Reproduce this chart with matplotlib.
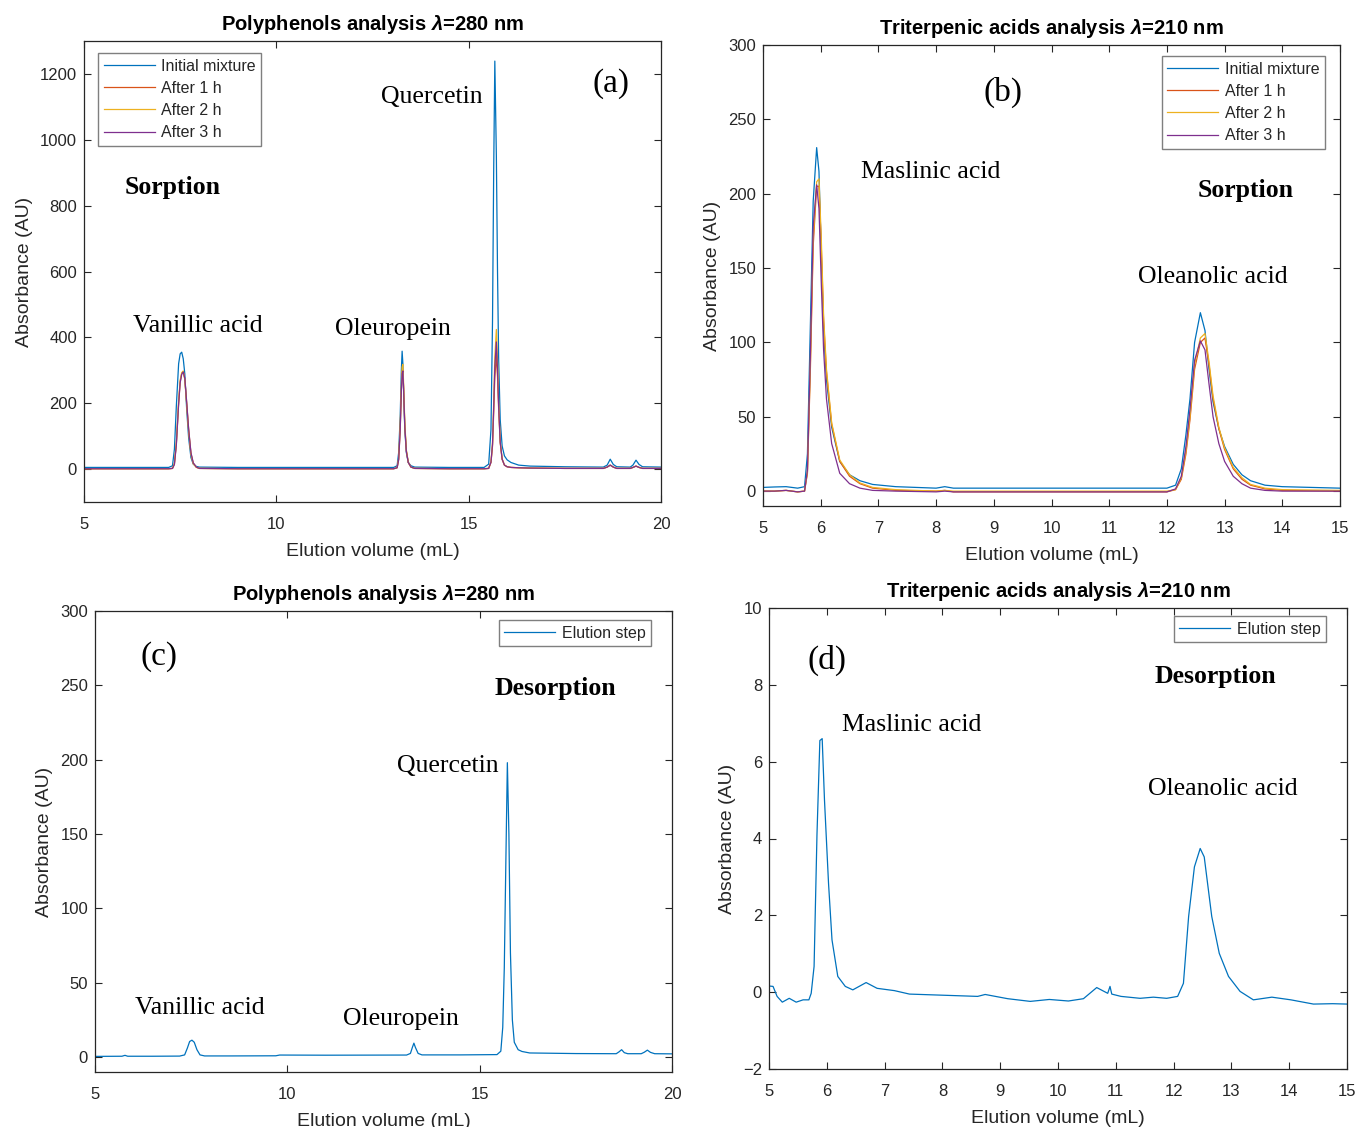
import matplotlib
matplotlib.use("Agg")
import matplotlib.pyplot as plt

# ---------------- data ----------------
series_labels = ["Initial mixture", "After 1 h", "After 2 h", "After 3 h"]
elution_label = ["Elution step"]

# Panel (a): polyphenols, sorption
x_a = [5.0, 6.0, 7.0,
       7.2, 7.3, 7.35, 7.40, 7.46, 7.50, 7.54, 7.58, 7.62, 7.67, 7.72, 7.78, 7.84, 7.92, 8.0,
       9.0, 10.0, 11.0, 12.0,
       13.05, 13.14, 13.18, 13.22, 13.25, 13.27, 13.29, 13.31, 13.34, 13.38, 13.43, 13.5, 13.6,
       14.5,
       15.4, 15.52, 15.58, 15.62, 15.65, 15.68, 15.72, 15.75, 15.78, 15.82, 15.87, 15.93, 16.0,
       16.1, 16.3, 16.6, 17.5, 18.5, 18.6, 18.68, 18.76, 18.85, 19.2, 19.27, 19.35, 19.43, 19.52, 20.0]
a_initial = [5, 5, 5,
             5, 10, 60, 190, 320, 350, 355, 335, 290, 180, 95, 35, 15, 8, 6,
             5, 5, 5, 5,
             5, 10, 50, 160, 300, 358, 320, 230, 120, 50, 20, 10, 6,
             5,
             5, 15, 120, 450, 900, 1239, 950, 600, 330, 150, 70, 40, 28,
             20, 12, 9, 7, 6, 12, 30, 14, 7, 6, 12, 27, 14, 7, 6]
a_1h = [1, 1, 1,
        1, 2, 15, 75, 200, 265, 290, 296, 275, 200, 120, 48, 18, 6, 2,
        1, 1, 1, 1,
        1, 4, 30, 120, 240, 295, 300, 240, 130, 55, 20, 6, 2,
        1,
        1, 2, 20, 70, 170, 280, 345, 280, 180, 80, 30, 12, 7,
        5, 4, 3, 2, 2, 6, 12, 6, 2, 2, 5, 9, 5, 2, 2]
a_2h = [1, 1, 1,
        1, 2, 18, 80, 205, 270, 293, 298, 272, 195, 115, 45, 16, 5, 2,
        1, 1, 1, 1,
        1, 4, 32, 130, 255, 310, 318, 255, 140, 58, 21, 6, 2,
        1,
        1, 2, 22, 80, 200, 340, 424, 330, 200, 85, 30, 12, 7,
        5, 4, 3, 2, 2, 6, 12, 6, 2, 2, 5, 9, 5, 2, 2]
a_3h = [1, 1, 1,
        1, 2, 14, 72, 198, 262, 288, 295, 276, 202, 122, 50, 19, 6, 2,
        1, 1, 1, 1,
        1, 4, 28, 118, 236, 290, 298, 238, 128, 54, 20, 6, 2,
        1,
        1, 2, 21, 75, 185, 310, 386, 300, 190, 82, 30, 12, 7,
        5, 4, 3, 2, 2, 6, 12, 6, 2, 2, 5, 9, 5, 2, 2]

# Panel (b): triterpenic acids, sorption
x_b = [5.0, 5.2, 5.4, 5.6, 5.72, 5.77, 5.82, 5.87, 5.93, 5.97, 6.01, 6.05, 6.1, 6.19, 6.33,
       6.5, 6.68, 6.9, 7.3, 8.0, 8.15, 8.3, 9.0, 10.0, 11.0, 12.0, 12.15, 12.25, 12.33, 12.40,
       12.48, 12.58, 12.66, 12.73, 12.8, 12.9, 13.0, 13.15, 13.3, 13.45, 13.7, 14.0, 15.0]
b_initial = [2.5, 2.8, 3, 2, 3, 25, 110, 195, 231, 215, 160, 108, 75, 43, 20,
             11, 7, 4.5, 3, 2, 3, 2, 2, 2, 2, 2, 4, 15, 38, 62,
             100, 120, 108, 82, 60, 42, 30, 18, 11, 7, 4, 3, 2]
b_1h = [0, 0, 0.5, -0.5, 0, 12, 80, 165, 205, 205, 165, 115, 80, 45, 20,
        10, 5, 2, 0.5, 0, 0.5, -0.5, -0.5, -0.5, -0.5, -0.5, 1, 8, 25, 48,
        82, 100, 103, 85, 62, 42, 28, 15, 8, 4, 1.5, 0.5, 0]
b_2h = [0, 0, 0.5, -0.5, 0, 13, 85, 170, 208, 210, 170, 118, 82, 46, 21,
        11, 5.5, 2.5, 1, 0, 0.5, 0, 0, 0, 0, 0, 1, 9, 27, 50,
        85, 103, 106, 87, 64, 43, 29, 16, 9, 4.5, 2, 1, 0.5]
b_3h = [0, 0, 0.5, -0.5, 0, 14, 90, 178, 206, 190, 140, 95, 62, 32, 12,
        5, 2, 0.5, 0, -0.5, 0, -0.5, -0.5, -0.5, -0.5, -0.5, 1.5, 10, 30, 55,
        88, 101, 95, 72, 50, 32, 20, 10, 5, 2, 0.5, 0, 0]

# Panel (c): polyphenols, desorption
x_c = [5.0, 5.7, 5.78, 5.85, 6.5, 7.2, 7.33, 7.4, 7.46, 7.52, 7.58, 7.65, 7.73, 7.85, 8.5,
       9.7, 9.8, 11.0, 13.1, 13.2, 13.25, 13.29, 13.33, 13.4, 13.5, 14.5, 15.45, 15.55, 15.6,
       15.64, 15.68, 15.72, 15.76, 15.8, 15.85, 15.9, 16.0, 16.1, 16.3, 17.5, 18.55, 18.62,
       18.69, 18.76, 18.85, 19.2, 19.28, 19.36, 19.44, 19.55, 20.0]
c_elution = [0.5, 0.6, 1.2, 0.6, 0.6, 0.7, 1.5, 6, 10.5, 11.4, 10, 5, 1.5, 0.8, 0.8,
             0.9, 1.4, 1.3, 1.4, 2.5, 6.5, 9.4, 6.5, 2.5, 1.5, 1.5, 1.7, 4, 20,
             60, 130, 198, 150, 70, 25, 10, 5, 3.8, 2.8, 2.4, 2.3, 3.5,
             5, 3, 2.3, 2.3, 3.3, 4.7, 3.2, 2.3, 2.2]

# Panel (d): triterpenic acids, desorption
x_d = [5.0, 5.07, 5.14, 5.23, 5.35, 5.47, 5.59, 5.69, 5.73, 5.78, 5.83, 5.88, 5.92, 5.96, 6.03,
       6.09, 6.19, 6.32, 6.45, 6.68, 6.87, 7.17, 7.43, 8.22, 8.61, 8.74, 9.13, 9.52, 9.85, 10.18,
       10.44, 10.67, 10.86, 10.9, 10.93, 11.09, 11.42, 11.65, 11.88, 12.07, 12.17, 12.26, 12.36,
       12.46, 12.53, 12.66, 12.79, 12.95, 13.15, 13.38, 13.7, 14.03, 14.42, 14.75, 15.0]
d_elution = [0.16, 0.15, -0.11, -0.26, -0.16, -0.26, -0.2, -0.2, -0.03, 0.67, 4.1, 6.55, 6.6, 5.0, 2.83,
             1.36, 0.41, 0.15, 0.06, 0.25, 0.10, 0.04, -0.05, -0.09, -0.11, -0.06, -0.17, -0.24, -0.19, -0.23,
             -0.17, 0.12, -0.03, 0.15, -0.05, -0.11, -0.16, -0.13, -0.16, -0.11, 0.23, 1.97, 3.26,
             3.74, 3.52, 1.97, 1.01, 0.41, 0.02, -0.2, -0.13, -0.2, -0.31, -0.3, -0.31]

ticks_a = [5, 10, 15, 20]
yticks_a = [0, 200, 400, 600, 800, 1000, 1200]
ticks_b = list(range(5, 16))
yticks_b = [0, 50, 100, 150, 200, 250, 300]
yticks_d = [-2, 0, 2, 4, 6, 8, 10]

# ---------------- style ----------------
colors = ["#0072BD", "#D95319", "#EDB120", "#7E2F8E"]
DARK = "#262626"
SERIF = "Liberation Serif"
SANS = "Liberation Sans"
plt.rcParams["font.family"] = [SANS, "DejaVu Sans"]
plt.rcParams["mathtext.fontset"] = "custom"
plt.rcParams["mathtext.it"] = "Liberation Sans:italic:bold"
plt.rcParams["mathtext.rm"] = "Liberation Sans:bold"

fig = plt.figure(figsize=(13.56, 11.27), dpi=100)
W, H = 1356.0, 1127.0


def make_ax(l, r, t, b):
    return fig.add_axes([l / W, 1 - b / H, (r - l) / W, (b - t) / H])


def style(ax, xt, yt, xlim, ylim, title):
    ax.set_xlim(*xlim)
    ax.set_ylim(*ylim)
    ax.set_xticks(xt)
    ax.set_yticks(yt)
    ax.tick_params(direction="in", top=True, right=True, length=5, width=0.8,
                   colors=DARK, labelsize=12, labelcolor=DARK)
    ax.tick_params(axis="x", pad=10.5)
    ax.tick_params(axis="y", pad=5)
    for s in ax.spines.values():
        s.set_color(DARK)
        s.set_linewidth(0.9)
    ax.set_xlabel("Elution volume (mL)", fontsize=14, color=DARK, labelpad=8)
    ax.set_ylabel("Absorbance (AU)", fontsize=14, color=DARK, labelpad=5)
    ax.set_title(title, fontsize=14.5, fontweight="bold", color="black", pad=8)


def legend(ax, loc, anchor):
    lg = ax.legend(loc=loc, bbox_to_anchor=anchor, borderaxespad=0, fontsize=11.5,
                   frameon=True, fancybox=False, framealpha=1, edgecolor="#7f7f7f",
                   handlelength=3.2, handletextpad=0.4, labelspacing=0.45, borderpad=0.35)
    lg.get_frame().set_linewidth(1.0)
    for t in lg.get_texts():
        t.set_color(DARK)


def label(ax, x, y, s, size=18.5, weight="normal"):
    ax.text(x, y, s, ha="center", va="center", fontsize=size, fontweight=weight,
            family=SERIF, color="black")


# (a)
ax = make_ax(84, 661, 41, 502)
for ys, lab, c in zip([a_initial, a_1h, a_2h, a_3h], series_labels, colors):
    ax.plot(x_a, ys, color=c, lw=0.9, label=lab)
style(ax, ticks_a, yticks_a, (5, 20), (-100, 1300),
      r"Polyphenols analysis $\lambda$=280 nm")
legend(ax, "upper left", (0.0243, 0.974))
label(ax, 18.7, 1170, "(a)", size=24)
label(ax, 14.05, 1131, "Quercetin")
label(ax, 7.96, 435, "Vanillic acid")
label(ax, 13.03, 425, "Oleuropein")
label(ax, 7.31, 854, "Sorption", weight="bold")

# (b)
ax = make_ax(763, 1340, 45, 506)
for ys, lab, c in zip([b_initial, b_1h, b_2h, b_3h], series_labels, colors):
    ax.plot(x_b, ys, color=c, lw=0.9, label=lab)
style(ax, ticks_b, yticks_b, (5, 15), (-10, 300),
      r"Triterpenic acids analysis $\lambda$=210 nm")
legend(ax, "upper right", (0.974, 0.976))
label(ax, 9.16, 268, "(b)", size=24)
label(ax, 7.91, 214.5, "Maslinic acid")
label(ax, 13.37, 202, "Sorption", weight="bold")
label(ax, 12.8, 144, "Oleanolic acid")

# (c)
ax = make_ax(95, 672, 611, 1072)
ax.plot(x_c, c_elution, color=colors[0], lw=0.9, label=elution_label[0])
style(ax, ticks_a, yticks_b, (5, 20), (-10, 300),
      r"Polyphenols analysis $\lambda$=280 nm")
legend(ax, "upper right", (0.9636, 0.9805))
label(ax, 6.66, 269, "(c)", size=24)
label(ax, 16.96, 248, "Desorption", weight="bold")
label(ax, 14.18, 196, "Quercetin")
label(ax, 7.73, 33, "Vanillic acid")
label(ax, 12.95, 25.5, "Oleuropein")

# (d)
ax = make_ax(769, 1347, 608, 1069)
ax.plot(x_d, d_elution, color=colors[0], lw=0.9, label=elution_label[0])
style(ax, ticks_b, yticks_d, (5, 15), (-2, 10),
      r"Triterpenic acids analysis $\lambda$=210 nm")
legend(ax, "upper right", (0.9637, 0.9826))
label(ax, 6.0, 8.64, "(d)", size=24)
label(ax, 12.73, 8.22, "Desorption", weight="bold")
label(ax, 7.46, 6.95, "Maslinic acid")
label(ax, 12.85, 5.28, "Oleanolic acid")

fig.savefig("out.png", dpi=100, facecolor="white")
